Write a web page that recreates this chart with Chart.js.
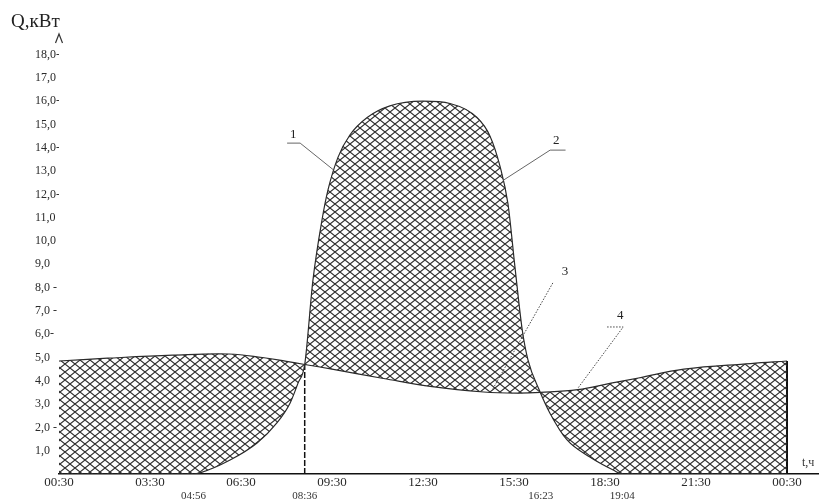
<!DOCTYPE html>
<html>
<head>
<meta charset="utf-8">
<script src="https://cdn.jsdelivr.net/npm/chart.js@4/dist/chart.umd.min.js"></script>
<style>
  html, body { margin: 0; padding: 0; background: #ffffff; }
  #wrap { width: 819px; height: 499px; position: relative; }
</style>
</head>
<body>
<div id="wrap"><canvas id="c" width="819" height="499"></canvas></div>
<script>
// ---- data (hours from 00:30 of day, kW) ----
const xTickHours  = [0.5, 3.5, 6.5, 9.5, 12.5, 15.5, 18.5, 21.5, 24.5];
const xTickLabels = ["00:30", "03:30", "06:30", "09:30", "12:30", "15:30", "18:30", "21:30", "00:30"];
const yTickValues = [1, 2, 3, 4, 5, 6, 7, 8, 9, 10, 11, 12, 13, 14, 15, 16, 17, 18];
const yTickLabels = ["1,0", "2,0 -", "3,0", "4,0", "5,0", "6,0-", "7,0 -", "8,0 -", "9,0", "10,0",
                     "11,0", "12,0-", "13,0", "14,0-", "15,0", "16,0-", "17,0", "18,0-"];
const markHours   = [4.933, 8.6, 16.383, 19.067];
const markLabels  = ["04:56", "08:36", "16:23", "19:04"];

// curve 3/4: load (consumption)
const loadHours = [0.5, 2.1, 4.25, 6.1, 7.2, 8.0, 8.6, 9.5, 11.2, 12.8, 14.5, 15.6, 16.38, 17.6, 18.7, 19.6, 21.1, 23.3, 24.5];
const loadKw    = [4.85, 4.97, 5.1, 5.15, 5.0, 4.83, 4.7, 4.5, 4.1, 3.75, 3.52, 3.47, 3.5, 3.62, 3.9, 4.12, 4.5, 4.74, 4.85];

// curve 1/2: generation (bell)
const genHours = [0.5, 4.93, 5.15, 6.14, 7.03, 7.69, 8.12, 8.38, 8.6, 8.87, 9.17, 9.37, 9.7, 10.09, 10.66, 11.41, 12.5,
                  13.39, 14.28, 14.71, 15.04, 15.3, 15.53, 15.77, 15.96, 16.36, 16.69, 17.25, 18.0, 18.77, 19.07, 24.5];
const genKw    = [0, 0, 0.05, 0.6, 1.33, 2.2, 3.05, 3.9, 4.7, 8.3, 10.9, 12.2, 13.6, 14.55, 15.3, 15.8, 16.0,
                  15.9, 15.3, 14.5, 13.2, 11.6, 8.9, 6.2, 4.9, 3.52, 2.6, 1.46, 0.73, 0.17, 0, 0];

// vertical boundary lines
const dashLineHour = 8.6,  dashLineTop = 4.7;
const endLineHour  = 24.5, endLineTop  = 4.85;

// callout labels
const calloutText  = ["1", "2", "3", "4"];
const calloutPos   = [[8.22, 14.55], [16.89, 14.33], [17.18, 8.67], [19.0, 6.82]];
const calloutLines = [
  [[8.02, 14.2], [8.45, 14.2], [9.55, 13.05]],
  [[17.2, 13.9], [16.69, 13.9], [15.14, 12.6]],
  [[16.78, 8.2], [14.78, 3.6]],
  [[18.57, 6.31], [19.1, 6.31], [17.61, 3.69]]
];
const calloutDotted = [false, false, true, true];

// ---- hatch pattern ----
function makeHatch() {
  const w = 10, h = 8;
  const c = document.createElement('canvas');
  c.width = w; c.height = h;
  const g = c.getContext('2d');
  g.strokeStyle = '#2e2e2e';
  g.lineWidth = 1.1;
  g.beginPath();
  g.moveTo(0, 0); g.lineTo(w, h);
  g.moveTo(w, 0); g.lineTo(0, h);
  g.stroke();
  return document.getElementById('c').getContext('2d').createPattern(c, 'repeat');
}
const hatch = makeHatch();

const SERIF = '"Liberation Serif", "DejaVu Serif", serif';

const decor = {
  id: 'decor',
  afterDraw(chart) {
    const ctx = chart.ctx;
    const xs = chart.scales.x, ys = chart.scales.y;
    ctx.save();
    ctx.fillStyle = '#222';
    ctx.font = '19px ' + SERIF;
    ctx.textAlign = 'left';
    ctx.textBaseline = 'alphabetic';
    ctx.fillText('Q,кВт', 11, 27);
    const ax = xs.getPixelForValue(0.5);
    ctx.strokeStyle = '#333';
    ctx.lineWidth = 1.2;
    ctx.beginPath();
    ctx.moveTo(ax - 3.5, 43); ctx.lineTo(ax, 34); ctx.lineTo(ax + 3.5, 43);
    ctx.stroke();
    ctx.font = '12px ' + SERIF;
    ctx.textBaseline = 'middle';
    ctx.fillStyle = '#333';
    ctx.fillText('t,ч', 802, 463);
    ctx.textAlign = 'center';
    ctx.textBaseline = 'top';
    ctx.font = '11px ' + SERIF;
    markHours.forEach((h, i) => {
      ctx.fillText(markLabels[i], xs.getPixelForValue(h), 491);
    });
    calloutText.forEach((t, i) => {
      const pts = calloutLines[i];
      ctx.strokeStyle = calloutDotted[i] ? '#444' : '#666';
      ctx.lineWidth = 1;
      ctx.setLineDash(calloutDotted[i] ? [1.5, 1.5] : []);
      ctx.beginPath();
      pts.forEach((p, k) => {
        const px = xs.getPixelForValue(p[0]), py = ys.getPixelForValue(p[1]);
        if (k === 0) ctx.moveTo(px, py); else ctx.lineTo(px, py);
      });
      ctx.stroke();
      ctx.setLineDash([]);
      ctx.fillStyle = '#222';
      ctx.font = '13px ' + SERIF;
      ctx.textBaseline = 'middle';
      ctx.fillText(t, xs.getPixelForValue(calloutPos[i][0]), ys.getPixelForValue(calloutPos[i][1]));
    });
    ctx.restore();
  }
};

const toPts = (xs, ys) => xs.map((x, i) => ({ x: x, y: ys[i] }));

new Chart(document.getElementById('c'), {
  type: 'line',
  data: {
    datasets: [
      {
        label: 'load',
        data: toPts(loadHours, loadKw),
        borderColor: '#2a2a2a',
        borderWidth: 1.2,
        pointRadius: 0,
        tension: 0.4,
        backgroundColor: hatch,
        fill: { target: 1, above: hatch, below: hatch }
      },
      {
        label: 'generation',
        data: toPts(genHours, genKw),
        borderColor: '#2a2a2a',
        borderWidth: 1.2,
        pointRadius: 0,
        cubicInterpolationMode: 'monotone',
        fill: false
      },
      {
        label: 'v1',
        data: [{ x: dashLineHour, y: 0 }, { x: dashLineHour, y: dashLineTop }],
        borderColor: '#111',
        borderWidth: 1.5,
        borderDash: [6, 2],
        pointRadius: 0,
        fill: false
      },
      {
        label: 'v2',
        data: [{ x: endLineHour, y: 0 }, { x: endLineHour, y: endLineTop }],
        borderColor: '#111',
        borderWidth: 2,
        pointRadius: 0,
        fill: false
      }
    ]
  },
  options: {
    responsive: false,
    animation: false,
    layout: { padding: { left: 35, top: 40.6, right: 0, bottom: 0 } },
    plugins: { legend: { display: false }, tooltip: { enabled: false }, title: { display: false } },
    scales: {
      x: {
        type: 'linear',
        min: 0.5,
        max: 25.555,
        grid: { display: false, drawTicks: false },
        border: { display: true, color: '#111', width: 1.5 },
        afterBuildTicks: (s) => { s.ticks = xTickHours.map(v => ({ value: v })); },
        afterFit: (s) => { s.height = 25; },
        ticks: {
          autoSkip: false,
          maxRotation: 0,
          padding: 1,
          color: '#2a2a2a',
          font: { family: SERIF, size: 13 },
          callback: (v, i) => xTickLabels[i]
        }
      },
      y: {
        type: 'linear',
        min: 0,
        max: 18.6,
        grid: { display: false, drawTicks: false },
        border: { display: false },
        afterBuildTicks: (s) => { s.ticks = yTickValues.map(v => ({ value: v })); },
        afterFit: (s) => { s.width = 24; },
        ticks: {
          crossAlign: 'far',
          autoSkip: false,
          color: '#2a2a2a',
          font: { family: SERIF, size: 12 },
          callback: (v, i) => yTickLabels[i]
        }
      }
    }
  },
  plugins: [decor]
});
</script>
</body>
</html>
